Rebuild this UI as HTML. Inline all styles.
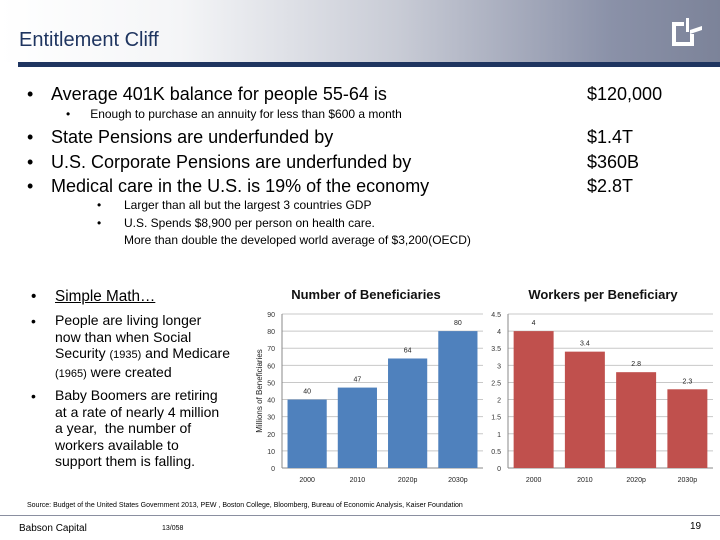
<!DOCTYPE html>
<html><head><meta charset="utf-8"><style>
body{margin:0;width:720px;height:540px;background:#fff;position:relative;overflow:hidden;font-family:"Liberation Sans",sans-serif;color:#000}
.a{position:absolute;white-space:nowrap}
</style></head><body>
<div class="a" style="left:0;top:0;width:720px;height:62px;background:linear-gradient(90deg,#fff 0%,#f4f5f7 25%,#c9ccd6 55%,#8a91a8 85%,#7c8399 100%)"></div>
<div class="a" style="left:18px;top:62px;width:702px;height:5px;background:#1f3560"></div>
<div class="a" style="left:19px;top:29px;font-size:20px;color:#1f3560">Entitlement Cliff</div>
<svg class="a" style="left:670px;top:16px" width="36" height="32"><path d="M2 6h12v4H6v16h14v-8h4v12H2z" fill="#fff"/><path d="M16 2h3v14h-3zM20 14l12-4v4l-12 4z" fill="#fff"/></svg>

<div>
<div class="a" style="left:27px;top:84px;font-size:18px">•</div>
<div class="a" style="left:51px;top:84px;font-size:18px">Average 401K balance for people 55-64 is</div>
<div class="a" style="left:587px;top:84px;font-size:18px">$120,000</div>
<div class="a" style="left:66px;top:107px;font-size:12px">•&nbsp;&nbsp;&nbsp;&nbsp;&nbsp;&nbsp;Enough to purchase an annuity for less than $600 a month</div>
<div class="a" style="left:27px;top:125px;font-size:18px;line-height:24.5px">•<br>•<br>•</div>
<div class="a" style="left:51px;top:125px;font-size:18px;line-height:24.5px">State Pensions are underfunded by<br>U.S. Corporate Pensions are underfunded by<br>Medical care in the U.S. is 19% of the economy</div>
<div class="a" style="left:587px;top:125px;font-size:18px;line-height:24.5px">$1.4T<br>$360B<br>$2.8T</div>
<div class="a" style="left:97px;top:197px;font-size:12px;line-height:17.5px">•<br>•</div>
<div class="a" style="left:124px;top:197px;font-size:12px;line-height:17.5px">Larger than all but the largest 3 countries GDP<br>U.S. Spends $8,900 per person on health care.<br>More than double the developed world average of $3,200(OECD)</div>
<div class="a" style="left:31px;top:288px;font-size:15.3px">•</div>
<div class="a" style="left:55px;top:288px;font-size:15.3px;text-decoration:underline">Simple Math…</div>
<div class="a" style="left:31px;top:313px;font-size:14px">•</div>
<div class="a" style="left:55px;top:312px;font-size:14px;line-height:16.6px">People are living longer<br>now than when Social<br>Security <span style="font-size:11px">(1935)</span> and Medicare<br><span style="font-size:11px">(1965)</span> were created</div>
<div class="a" style="left:31px;top:388px;font-size:14px">•</div>
<div class="a" style="left:55px;top:387px;font-size:14px;line-height:16.6px">Baby Boomers are retiring<br>at a rate of nearly 4 million<br>a year,&nbsp; the number of<br>workers available to<br>support them is falling.</div>
</div>

<svg id="ch" class="a" style="left:0;top:0" width="720" height="540"></svg>

<div class="a" style="left:27px;top:502px;font-size:7px">Source: Budget of the United States Government 2013, PEW , Boston College, Bloomberg, Bureau of Economic Analysis, Kaiser Foundation</div>
<div class="a" style="left:0;top:515px;width:720px;height:1px;background:#8a8fa0"></div>
<div class="a" style="left:19px;top:523px;font-size:10px">Babson Capital</div>
<div class="a" style="left:162px;top:525px;font-size:7px">13/058</div>
<div class="a" style="left:690px;top:521px;font-size:10px">19</div>

<script>
const cats1=["2000","2010","2020p","2030p"];
const vals1=[40,47,64,80];
const ticks1=[0,10,20,30,40,50,60,70,80,90];
const cats2=["2000","2010","2020p","2030p"];
const vals2=[4,3.4,2.8,2.3];
const labels2=["4","3.4","2.8","2.3"];
const ticks2=[0,0.5,1,1.5,2,2.5,3,3.5,4,4.5];
const svg=document.getElementById('ch');
const NS="http://www.w3.org/2000/svg";
function mk(t,a,txt){const e=document.createElementNS(NS,t);for(const k in a)e.setAttribute(k,a[k]);if(txt!==undefined)e.textContent=txt;svg.appendChild(e);return e;}
function chart(o){
  const y=v=>o.y0-(v/o.max)*(o.y0-o.y1);
  o.ticks.forEach(t=>{
    const g=mk('line',{x1:o.x0,x2:o.x1,y1:y(t),y2:y(t),stroke:'#c8c8c8','stroke-width':1});
    
    
    const l=mk('text',{x:o.x0-7,y:y(t)+3,'font-size':7,'text-anchor':'end',fill:'#333','font-family':'Liberation Sans'},String(t));
    
    
  });
  mk('line',{x1:o.x0,x2:o.x0,y1:o.y1,y2:o.y0,stroke:'#888'});
  mk('line',{x1:o.x0,x2:o.x1,y1:o.y0,y2:o.y0,stroke:'#888'});
  const step=(o.x1-o.x0)/o.cats.length, bw=step*0.78;
  o.cats.forEach((c,i)=>{
    const cx=o.x0+step*(i+0.5);
    const r=mk('rect',{x:cx-bw/2,y:y(o.vals[i]),width:bw,height:o.y0-y(o.vals[i]),fill:o.color});
    
    
    const v=mk('text',{x:cx,y:y(o.vals[i])-6,'font-size':7,'text-anchor':'middle',fill:'#222','font-family':'Liberation Sans'},o.labels?o.labels[i]:String(o.vals[i]));
    
    
    const x=mk('text',{x:cx,y:o.y0+14,'font-size':7,'text-anchor':'middle',fill:'#222','font-family':'Liberation Sans'},c);
    
    
  });
  const t=mk('text',{x:o.tx,y:299,'font-size':13,'font-weight':'bold','text-anchor':'middle',fill:'#111','font-family':'Liberation Sans'},o.title);
  
  
}
chart({x0:282,x1:483,y0:468,y1:314,max:90,ticks:ticks1,cats:cats1,vals:vals1,color:'#4f81bd',title:'Number of Beneficiaries',tx:366});
chart({x0:508,x1:713,y0:468,y1:314,max:4.5,ticks:ticks2,cats:cats2,vals:vals2,labels:labels2,color:'#c0504d',title:'Workers per Beneficiary',tx:603});
const yt=mk('text',{x:0,y:0,'font-size':8,'text-anchor':'middle',fill:'#222','font-family':'Liberation Sans',transform:'translate(262,391) rotate(-90)'},'Millions of Beneficiaries');


</script>
</body></html>
